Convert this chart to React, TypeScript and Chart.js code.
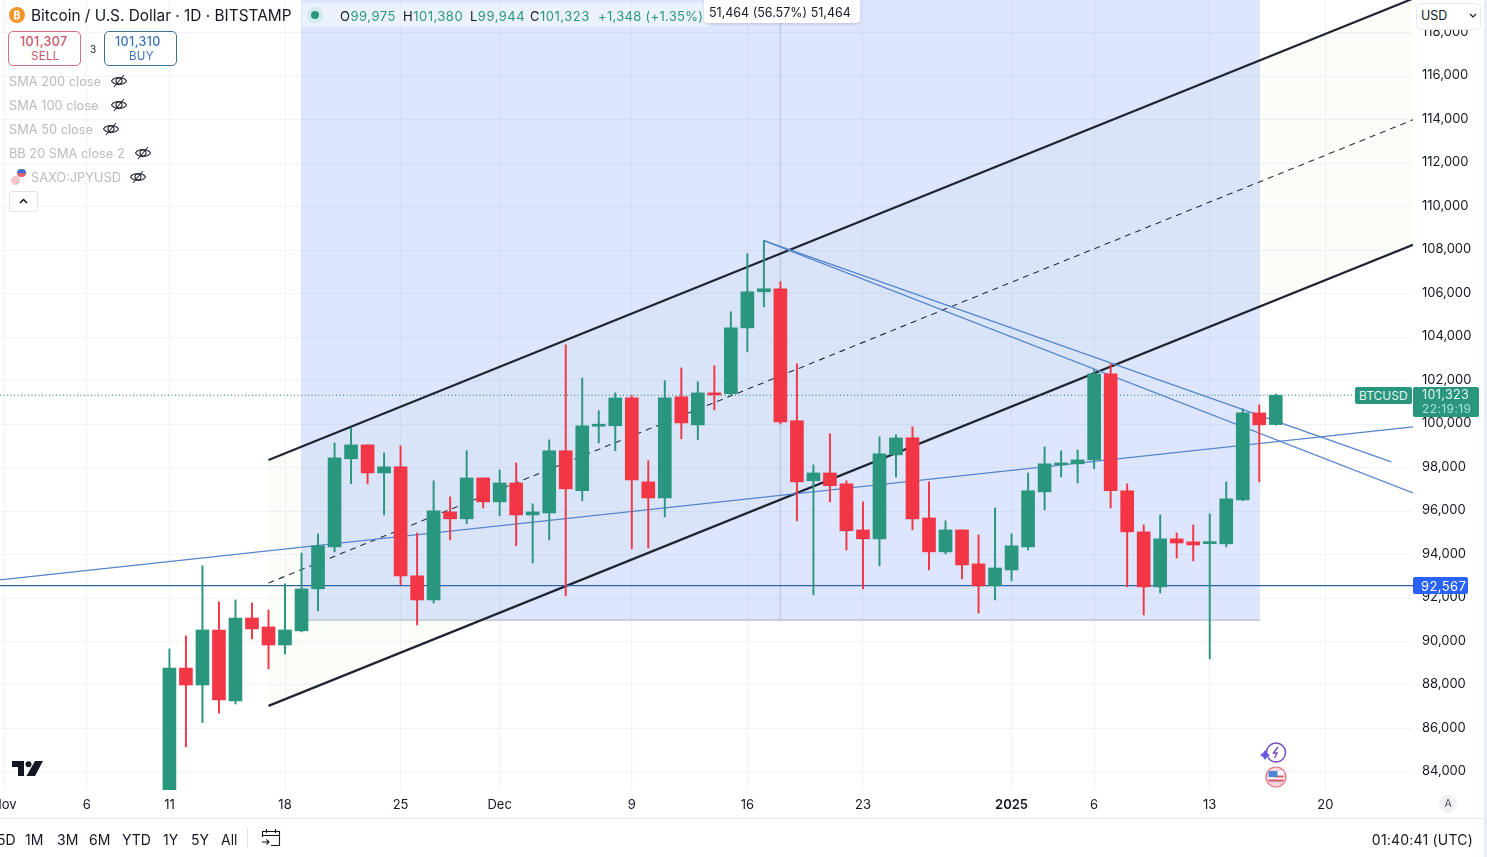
import React, { useEffect, useRef } from "react";
import { Chart, registerables } from "chart.js";

Chart.register(...registerables);

const opens = [80400,88780,88000,90530,87270,91080,90670,89840,90490,92420,94350,98400,99040,97750,98030,93020,91910,95960,95640,97520,96420,97290,95820,95910,98770,96930,99900,99920,101200,97340,96600,101250,99960,101430,101390,104420,106080,106220,100150,97390,97750,97250,95130,94720,98580,99360,95680,94120,95130,93570,92560,93290,94350,96880,98120,98170,98350,102310,96930,95040,92510,94720,94580,94500,94490,96510,100510,99975];
const highs = [89660,90260,93480,91820,91910,91770,91450,92650,94070,94950,99130,99820,99040,98670,99000,94990,97390,96650,98770,97520,97890,98210,96330,99270,103640,102120,100610,101430,101300,98310,101990,102580,101940,102680,105160,107830,108430,106540,102770,98120,99550,97390,96420,99410,99500,99870,97340,95550,95130,94900,96140,94950,97750,98950,98770,98810,102490,102770,97250,95360,95820,94990,95360,95870,97340,100700,100880,101380];
const lows = [80200,85160,86270,86710,87130,90120,88740,89430,90440,91410,94120,97250,97250,95820,92600,90760,91770,94670,95410,96140,95780,94400,93610,94670,92100,96470,99130,98770,94260,94300,95730,99320,99270,100650,101340,103320,105390,100010,95550,92140,96420,94210,92420,93480,97570,95130,93290,94030,92880,91310,91910,92790,94210,96050,97570,97290,97940,96140,92510,91220,92230,93840,93710,89200,94350,96470,97340,99944];
const closes = [88780,88000,90530,87310,91080,90580,89840,90530,92420,94400,98440,99040,97750,98030,93020,91910,96010,95640,97520,96420,97290,95820,95960,98770,97020,99920,99950,101200,97430,96600,101200,100050,101430,101340,104420,106080,106220,100100,97340,97750,97160,95090,94720,98630,99360,95640,94120,95130,93520,92560,93380,94400,96930,98170,98210,98350,102310,96930,95040,92510,94720,94530,94440,94530,96560,100510,99960,101323];

const xTickValues = [-10,-5,0,7,14,20,28,35,42,51,56,63,70];
const xTickLabels = ["Nov","6","11","18","25","Dec","9","16","23","2025","6","13","20"];
const yTickValues = [84000,86000,88000,90000,92000,94000,96000,98000,100000,102000,104000,106000,108000,110000,112000,114000,116000,118000];

const axisStart = -10.26;
const axisEnd = 75.31;

const channelStartDay = 6;
const channelEndDay = 75.31;
const channelUpper = [98350, 119560];
const channelMiddle = [92690, 113990];
const channelLower = [87040, 108240];

const rangeDays = [7.96, 66.05];
const rangeLow = 90990;
const rangeHigh = 142454;
const rangeMiddleDay = 37;

const lastPrice = 101323;
const alertPrice = 92567;

const risingLine = [92830, 99870];
const fallStartDay = 36;
const fallStartPrice = 108430;
const fallShortEnd = [74, 98260];
const fallLongEnd = [75.31, 96830];

const legendRows = [
  { t: "SMA 200 close", y: 81, eye: 119 },
  { t: "SMA 100 close", y: 105, eye: 119 },
  { t: "SMA 50 close", y: 129, eye: 111 },
  { t: "BB 20 SMA close 2", y: 153, eye: 143 },
];
const rangeButtons = [
  { t: "5D", x: -3 }, { t: "1M", x: 25 }, { t: "3M", x: 57 }, { t: "6M", x: 89 },
  { t: "YTD", x: 122 }, { t: "1Y", x: 163 }, { t: "5Y", x: 191 }, { t: "All", x: 221 },
];

const GREEN = "#2a967e";
const RED = "#f23645";
const FONT = "Inter, 'Noto Sans', sans-serif";

const line = (data: any[], color: string, width: number, order: number, extra: any = {}) => ({
  type: "line", data, borderColor: color, borderWidth: width, pointRadius: 0, tension: 0, order, fill: false, ...extra,
});

const T = ({ x, y, s = 13, c = "#131722", w = 400, ls = 0, children, right }: any) => (
  <div style={{
    position: "absolute", left: right === undefined ? x : undefined, right, top: y + 0.5, transform: "translateY(-50%)",
    fontSize: s, color: c, fontWeight: w, letterSpacing: ls, whiteSpace: "nowrap", lineHeight: 1, fontFamily: FONT,
  }}>{children}</div>
);

const Eye = ({ x, y }: any) => (
  <svg style={{ position: "absolute", left: x - 9, top: y - 8 }} width="18" height="16" viewBox="0 0 18 16" fill="none" stroke="#2a2e39" strokeWidth="1.1">
    <path d="M1.5 8 C4 3.5 14 3.5 16.5 8 C14 12.5 4 12.5 1.5 8 Z" />
    <circle cx="9" cy="8" r="3" />
    <path d="M4 14 L14 2" />
  </svg>
);

export default function App() {
  const ref = useRef<HTMLCanvasElement>(null);
  useEffect(() => {
    const idx = opens.map((_, i) => i);
    const colors = idx.map((i) => (closes[i] >= opens[i] ? GREEN : RED));
    const canvas = ref.current as HTMLCanvasElement;
    const ctx = canvas.getContext("2d") as any;
    ctx.letterSpacing = "0.5px";
    const chart = new Chart(canvas, {
      type: "bar",
      data: {
        datasets: [
          { type: "bar", data: idx.map((i) => ({ x: i, y: [opens[i], closes[i]] })), backgroundColor: colors, barThickness: 13, grouped: false, minBarLength: 2, order: 1 },
          { type: "bar", data: idx.map((i) => ({ x: i, y: [lows[i], highs[i]] })), backgroundColor: colors, barThickness: 1.3, grouped: false, order: 2 },
          line([{ x: channelStartDay, y: channelUpper[0] }, { x: channelEndDay, y: channelUpper[1] }], "#1f2430", 2.2, 4),
          line([{ x: channelStartDay, y: channelMiddle[0] }, { x: channelEndDay, y: channelMiddle[1] }], "#2a2e39", 1.1, 4, { borderDash: [6, 5] }),
          line([{ x: channelStartDay, y: channelLower[0] }, { x: channelEndDay, y: channelLower[1] }], "#1f2430", 2.2, 4),
          line([{ x: axisStart, y: risingLine[0] }, { x: axisEnd, y: risingLine[1] }], "#5585cc", 1.2, 3),
          line([{ x: fallStartDay, y: fallStartPrice }, { x: fallShortEnd[0], y: fallShortEnd[1] }], "#5585cc", 1.2, 3),
          line([{ x: fallStartDay, y: fallStartPrice }, { x: fallLongEnd[0], y: fallLongEnd[1] }], "#5585cc", 1.2, 3),
          line([{ x: axisStart, y: alertPrice }, { x: axisEnd, y: alertPrice }], "#2f62a8", 1.2, 3),
          line([{ x: axisStart, y: lastPrice }, { x: axisEnd, y: lastPrice }], "#157a66", 1, 3, { borderDash: [1, 2.5] }),
          line([{ x: rangeMiddleDay, y: rangeLow }, { x: rangeMiddleDay, y: rangeHigh }], "rgba(170,182,205,0.45)", 2, 5),
          line([{ x: rangeDays[0], y: rangeLow }, { x: rangeDays[1], y: rangeLow }], "#c9cfdb", 2, 6, { fill: "end", backgroundColor: "rgba(41,98,245,0.16)" }),
          line([{ x: channelStartDay, y: channelUpper[0] }, { x: channelEndDay, y: channelUpper[1] }], "transparent", 0, 7, { fill: "+1", backgroundColor: "rgba(139,195,74,0.035)" }),
          line([{ x: channelStartDay, y: channelLower[0] }, { x: channelEndDay, y: channelLower[1] }], "transparent", 0, 8),
        ] as any,
      },
      options: {
        animation: false,
        responsive: false,
        layout: { padding: 0 },
        plugins: { legend: { display: false }, tooltip: { enabled: false } },
        scales: {
          x: {
            type: "linear",
            min: axisStart,
            max: axisEnd,
            offset: false,
            grid: { color: "#f0f3fa", offset: false, drawTicks: false },
            border: { display: false },
            afterBuildTicks: (s: any) => { s.ticks = xTickValues.map((v) => ({ value: v })); },
            afterFit: (s: any) => { s.height = 67; s.paddingLeft = 0; s.paddingRight = 0; },
            ticks: {
              autoSkip: false,
              maxRotation: 0,
              padding: 7,
              color: "#131722",
              font: (c: any) => ({ family: FONT, size: 13, weight: c.tick && c.tick.value === 51 ? "600" : "normal" }),
              callback: (v: any) => xTickLabels[xTickValues.indexOf(v)],
            },
          },
          y: {
            type: "linear",
            position: "right",
            min: 83172,
            max: 119496,
            grid: { color: "#f0f3fa", drawTicks: false },
            border: { display: false },
            afterBuildTicks: (s: any) => { s.ticks = yTickValues.map((v) => ({ value: v })); },
            afterFit: (s: any) => { s.width = 74; s.paddingTop = 0; s.paddingBottom = 0; },
            ticks: {
              autoSkip: false,
              padding: 9,
              labelOffset: -0.5,
              color: "#131722",
              font: { family: FONT, size: 13 },
              callback: (v: any) => Number(v).toLocaleString("en-US"),
            },
          },
        },
      } as any,
    });
    return () => chart.destroy();
  }, []);

  return (
    <div style={{ position: "fixed", left: 0, top: 0, width: 1487, height: 857, overflow: "hidden", background: "#fff", fontFamily: FONT }}>
      <canvas ref={ref} width={1487} height={857} style={{ position: "absolute", left: 0, top: 0, width: 1487, height: 857 }} />

      {/* header */}
      <div style={{ position: "absolute", left: 9, top: 7, width: 16, height: 16, borderRadius: 8, background: "#f0962a", color: "#fff", fontSize: 11, fontWeight: 700, textAlign: "center", lineHeight: "16px" }}>₿</div>
      <T x={31} y={15} s={15.4}>Bitcoin / U.S. Dollar · 1D · BITSTAMP</T>
      <div style={{ position: "absolute", left: 302, top: 3, width: 408, height: 24, background: "rgba(255,255,255,0.45)" }} />
      <div style={{ position: "absolute", left: 307, top: 7, width: 16, height: 16, borderRadius: 8, background: "#d3ebe8" }} />
      <div style={{ position: "absolute", left: 311, top: 11, width: 8, height: 8, borderRadius: 4, background: GREEN }} />
      <T x={340} y={15} s={13} ls={0.5}>O<span style={{ color: GREEN }}>99,975</span></T>
      <T x={403} y={15} s={13} ls={0.5}>H<span style={{ color: GREEN }}>101,380</span></T>
      <T x={470} y={15} s={13} ls={0.5}>L<span style={{ color: GREEN }}>99,944</span></T>
      <T x={530} y={15} s={13} ls={0.5}>C<span style={{ color: GREEN }}>101,323</span></T>
      <T x={598} y={15} s={13} c={GREEN} ls={0.3}>+1,348 (+1.35%)</T>
      <div style={{ position: "absolute", left: 704, top: -4, width: 156, height: 27, background: "#fff", borderRadius: 3, boxShadow: "0 1px 3px rgba(0,0,0,0.15)" }} />
      <T x={709} y={12} s={12.5}>51,464 (56.57%) 51,464</T>

      {/* trade buttons */}
      <div style={{ position: "absolute", left: 8, top: 31, width: 71, height: 33, border: "1px solid #d5707f", borderRadius: 5, background: "#fff" }} />
      <T x={20} y={41} s={12.5} c="#c9566a" w={500} ls={0.4}>101,307</T>
      <T x={31} y={56} s={11.5} c="#c9566a" ls={0.3}>SELL</T>
      <T x={90} y={48} s={10}>3</T>
      <div style={{ position: "absolute", left: 104, top: 31, width: 71, height: 33, border: "1px solid #3f7196", borderRadius: 5, background: "#fff" }} />
      <T x={115} y={41} s={12.5} c="#3d74b8" w={500} ls={0.4}>101,310</T>
      <T x={129} y={56} s={11.5} c="#3d74b8" ls={0.3}>BUY</T>

      {/* legend */}
      {legendRows.map((r) => (
        <React.Fragment key={r.t}>
          <T x={9} y={r.y} s={12.8} c="#b8bbc3">{r.t}</T>
          <Eye x={r.eye} y={r.y} />
        </React.Fragment>
      ))}
      <div style={{ position: "absolute", left: 11, top: 176, width: 9, height: 9, borderRadius: 5, background: "#f5c5cc" }} />
      <div style={{ position: "absolute", left: 17, top: 169, width: 9, height: 8, borderRadius: 4, background: "linear-gradient(#3b6fd1 50%, #e0606f 50%)" }} />
      <T x={31} y={177} s={12.8} c="#b8bbc3">SAXO:JPYUSD</T>
      <Eye x={138} y={177} />
      <div style={{ position: "absolute", left: 9, top: 191, width: 27, height: 19, border: "1px solid #e0e3eb", borderRadius: 3, background: "#fff" }} />
      <svg style={{ position: "absolute", left: 18, top: 197 }} width="11" height="8" fill="none" stroke="#131722" strokeWidth="1.5"><path d="M2 6 L5.5 2.5 L9 6" /></svg>

      {/* TradingView mark */}
      <svg style={{ position: "absolute", left: 12, top: 761 }} width="31" height="16" viewBox="0 0 31 16" fill="#131722">
        <path d="M0 0 H12 V15 H6 V6 H0 Z" />
        <circle cx="16.5" cy="3.2" r="3" />
        <path d="M23 0 H31 L23 15 H14.5 Z" />
      </svg>

      {/* price labels */}
      <div style={{ position: "absolute", left: 1355, top: 387, width: 57, height: 17, background: GREEN, borderRadius: 2 }} />
      <T x={1359} y={395} s={12} c="#e4f5f0">BTCUSD</T>
      <div style={{ position: "absolute", left: 1413, top: 387, width: 66, height: 30, background: GREEN, borderRadius: 2 }} />
      <T x={1422} y={394} s={12.5} c="#e4f5f0" ls={0.4}>101,323</T>
      <T x={1422} y={408} s={12} c="#a8e2d2" ls={0.4}>22:19:19</T>
      <div style={{ position: "absolute", left: 1413, top: 577, width: 55, height: 17, background: "#2962ff", borderRadius: 2 }} />
      <T x={1421} y={585} s={13} c="#fff" ls={0.4}>92,567</T>

      {/* currency */}
      <div style={{ position: "absolute", left: 1416, top: 3, width: 63, height: 25, border: "1px solid #e6e8ee", borderRadius: 5, background: "#fff" }} />
      <T x={1421} y={15} s={12.5}>USD</T>
      <svg style={{ position: "absolute", left: 1469, top: 13 }} width="8" height="6" fill="none" stroke="#131722" strokeWidth="1.2"><path d="M1 1 L4 4 L7 1" /></svg>

      {/* event marks */}
      <svg style={{ position: "absolute", left: 1260, top: 740 }} width="30" height="50" viewBox="0 0 30 50" fill="none">
        <circle cx="16" cy="12.5" r="9.5" stroke="#7c4dbd" strokeWidth="1.5" fill="#fff" />
        <path d="M18 7 L13.5 13 H17 L14.5 18" stroke="#7c4dbd" strokeWidth="1.5" />
        <path d="M5 10 L7 13 L10 15 L7 17 L5 20 L3 17 L0 15 L3 13 Z" fill="#6a5ae0" />
        <circle cx="16" cy="37" r="10" fill="#f8d3d8" stroke="#e2727f" strokeWidth="1.2" />
        <rect x="8.5" y="31" width="15" height="10" fill="#fff" />
        <rect x="14" y="35.5" width="9.5" height="2" fill="#d65a6a" />
        <rect x="8.5" y="39.5" width="15" height="2" fill="#d65a6a" />
        <rect x="8.5" y="31" width="9" height="6" fill="#4f86d9" />
      </svg>
      <div style={{ position: "absolute", left: 1439, top: 795, width: 18, height: 18, borderRadius: 9, background: "#eef0f5", color: "#50535e", fontSize: 10.5, textAlign: "center", lineHeight: "18px" }}>A</div>

      {/* bottom bar */}
      <div style={{ position: "absolute", left: 0, top: 818, width: 1483, height: 1, background: "#e0e3eb" }} />
      {rangeButtons.map((b) => <T key={b.t} x={b.x} y={839} s={14}>{b.t}</T>)}
      <div style={{ position: "absolute", left: 247, top: 828, width: 1, height: 20, background: "#e0e3eb" }} />
      <svg style={{ position: "absolute", left: 261, top: 828 }} width="20" height="20" viewBox="0 0 20 20" fill="none" stroke="#131722" strokeWidth="1.1">
        <path d="M1.5 9 V3.5 H18.5 V17.5 H10" />
        <path d="M1.5 7.5 H18.5 M5.5 1 V5 M14.5 1 V5" />
        <path d="M1 14 H8 M5.5 11.5 L8 14 L5.5 16.5" />
      </svg>
      <T right={14} y={839} s={14} ls={0.2}>01:40:41 (UTC)</T>
      <div style={{ position: "absolute", left: 1484, top: 0, width: 3, height: 857, background: "#e9ecf2" }} />
    </div>
  );
}
